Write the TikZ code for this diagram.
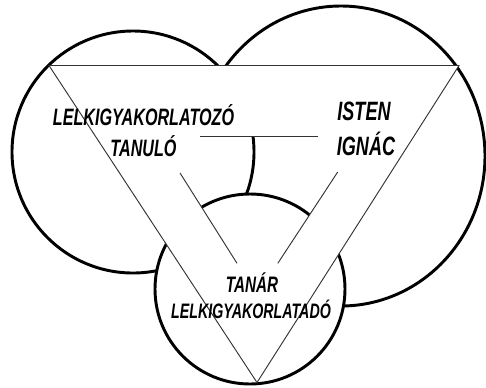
\documentclass[tikz,border=0pt]{standalone}
\usepackage{fontspec}
\newfontfamily\handfont[FakeStretch=0.68]{Liberation Sans}
\usetikzlibrary{calc}

\begin{document}
\begin{tikzpicture}[x=0.75pt,y=0.75pt,yscale=-1,xscale=1,
  ring/.style={draw=black,fill=white,line width=2.2pt},
  edge/.style={draw=black!80,line width=0.7pt},
  word/.style={font={\handfont\bfseries\itshape\fontsize{#1}{#1}\selectfont},anchor=base,inner sep=0pt}]
\useasboundingbox (0,0) rectangle (486,387);

%Circles
\draw [ring] (341,156) ellipse [x radius=144, y radius=150];
\draw [ring] (133,152) circle [radius=121];
\draw [ring] (250,289) circle [radius=95];

%Triangle corners
\coordinate (oL) at (49,65.5);
\coordinate (oR) at (459,65.5);
\coordinate (oB) at (257,382.5);
\coordinate (iL) at (157,136.5);
\coordinate (iR) at (361,136.5);
\coordinate (iB) at (257,295);

%Band
\fill [white, even odd rule] (oL) -- (oR) -- (oB) -- cycle (iL) -- (iR) -- (iB) -- cycle;
\draw [edge] (oL) -- (oR) -- (oB) -- cycle;
\draw [edge] ($(iL)!0.21!(iR)$) -- ($(iL)!0.79!(iR)$);
\draw [edge] ($(iL)!0.23!(iB)$) -- ($(iL)!0.80!(iB)$);
\draw [edge] ($(iR)!0.224!(iB)$) -- ($(iR)!0.80!(iB)$);

% Text Node
\node [word=17.8] (learner) at (143.5,125.5) {LELKIGYAKORLATOZÓ};
% Text Node
\node [word=17.8] (student) at (143.5,156.5) {TANULÓ};
% Text Node
\node [word=19.9] (god) at (364,120) {ISTEN};
% Text Node
\node [word=19.9] (ignatius) at (366,155) {IGNÁC};
% Text Node
\node [word=16.8] (teacher) at (252,292) {TANÁR};
% Text Node
\node [word=15.7] (giver) at (251,318) {LELKIGYAKORLATADÓ};

\end{tikzpicture}
\end{document}
